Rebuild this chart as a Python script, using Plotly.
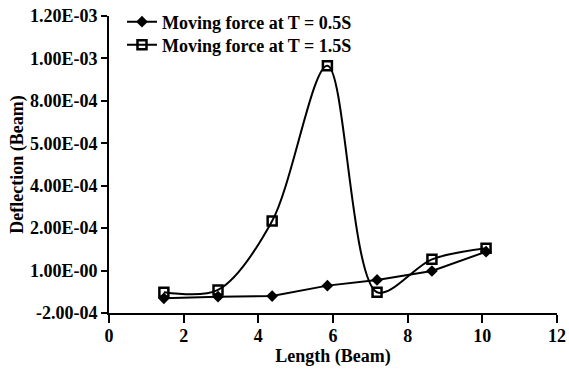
import plotly.graph_objects as go

length = [1.47, 2.92, 4.37, 5.85, 7.18, 8.65, 10.1]
defl_t05 = [-1.31e-4, -1.23e-4, -1.20e-4, -0.71e-4, -0.44e-4, -0.02e-4, 0.89e-4]
defl_t15 = [-1.02e-4, -0.91e-4, 2.34e-4, 9.66e-4, -1.02e-4, 0.53e-4, 1.05e-4]
ytick_vals = [-2e-4, 0, 2e-4, 4e-4, 6e-4, 8e-4, 1e-3, 1.2e-3]
ytick_text = ["-2.00-04", "1.00E-00", "2.00E-04", "4.00E-04", "5.00E-04", "8.00E-04", "1.00E-03", "1.20E-03"]
xtick_vals = [0, 2, 4, 6, 8, 10, 12]

FONT = "Liberation Serif"
LEG_FONT = dict(family=FONT, size=18, weight="bold")

fig = go.Figure()
fig.add_trace(go.Scatter(
    x=length, y=defl_t05, mode="lines+markers", name="Moving force at T = 0.5S",
    line=dict(color="black", width=2),
    marker=dict(symbol="diamond", size=9, color="black"),
    legend="legend",
))
fig.add_trace(go.Scatter(
    x=length, y=defl_t15, mode="lines+markers", name="Moving force at T = 1.5S",
    line=dict(color="black", width=2, shape="spline", smoothing=0.9),
    marker=dict(symbol="square-open", size=9, color="black", line=dict(width=2.5)),
    legend="legend2",
))

fig.update_layout(
    width=569, height=373,
    margin=dict(l=109, r=12, t=16, b=60, autoexpand=False),
    plot_bgcolor="white", paper_bgcolor="white",
    font=dict(family=FONT, size=18, color="black"),
    showlegend=True,
    legend=dict(x=0.029, y=0.98, xanchor="left", yanchor="middle",
                bgcolor="rgba(0,0,0,0)", font=LEG_FONT, itemwidth=30),
    legend2=dict(x=0.029, y=0.902, xanchor="left", yanchor="middle",
                 bgcolor="rgba(0,0,0,0)", font=LEG_FONT, itemwidth=30),
    xaxis=dict(range=[0, 12], tickvals=xtick_vals, showgrid=False, zeroline=False,
               showline=True, linecolor="black", linewidth=2, automargin=False,
               ticks="outside", ticklen=8, tickwidth=2, tickcolor="black",
               ticklabelstandoff=-3, ticklabeloverflow="allow",
               tickfont=dict(family=FONT, size=18, weight="bold"),
               title=dict(text="<b>Length (Beam)</b>", font=dict(family=FONT, size=18), standoff=2)),
    yaxis=dict(range=[-2e-4, 1.2e-3], tickvals=ytick_vals, ticktext=ytick_text, showgrid=False,
               zeroline=False, showline=True, linecolor="black", linewidth=2, automargin=False,
               ticks="outside", ticklen=6, tickwidth=2, tickcolor="black",
               ticklabeloverflow="allow",
               tickfont=dict(family=FONT, size=18, weight="bold"),
               title=dict(text="<b>Deflection (Beam)</b>", font=dict(family=FONT, size=18), standoff=2)),
)

# remove the default page margin so the figure fills the window exactly
fig.write_html("out.html", config={"displayModeBar": False},
               post_script="document.body.style.margin='0';")
